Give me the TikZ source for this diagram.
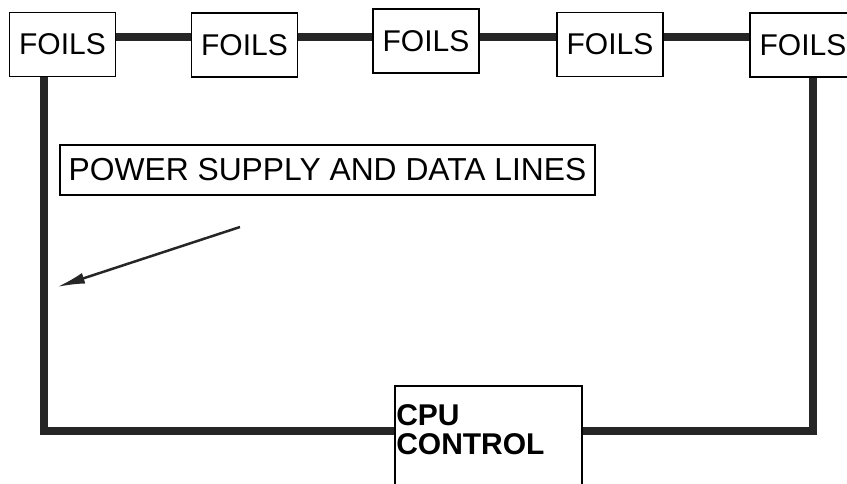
\documentclass[tikz,border=0pt]{standalone}
\usepackage{fontspec}
\setmainfont{Liberation Sans}
\usetikzlibrary{arrows.meta}
\tikzset{
    foil/.style={
           rectangle,
           draw=black, line width=1.5pt,
           minimum width=106pt, minimum height=64pt,
           inner sep=0pt,
           font=\fontsize{30}{30}\selectfont,
           },
}
\tikzset{
    notebox/.style={
           rectangle,
           draw=black, line width=1.5pt,
           minimum width=535pt, minimum height=50pt,
           inner sep=0pt,
           font=\fontsize{31.8}{32}\selectfont,
           },
}
\tikzset{
    cpubox/.style={
           rectangle,
           draw=black, line width=1.5pt,
           anchor=north west,
           inner xsep=1.5pt, inner ysep=19pt,
           text width=184pt, align=left,
           text depth=110pt,
           font=\fontsize{30}{29}\selectfont\bfseries,
           },
}
\tikzset{
    bus/.style={
           draw=black!85, line width=8pt,
           },
}

\begin{document}
\begin{tikzpicture}[x=1pt,y=-1pt]
\useasboundingbox (0,0) rectangle (847,483);
\clip (0,0) rectangle (847,483);
\node[foil](f1) at (62.5,44.5){FOILS};
\node[foil](f2) at (244.5,45){FOILS};
\node[foil](f3) at (426,41){FOILS};
\node[foil](f4) at (610,44.5){FOILS};
\node[foil](f5) at (803,45){FOILS};
\node[notebox](pwr) at (327.5,170){POWER SUPPLY AND DATA LINES};
\node[cpubox](cpu) at (394,385){CPU\\CONTROL};
% bus rails
\coordinate (busT) at (0,37);
\coordinate (busL) at (44,431);
\coordinate (busR) at (813,431);
\path[bus] (f1.east |- busT) -- (f2.west |- busT);
\path[bus] (f2.east |- busT) -- (f3.west |- busT);
\path[bus] (f3.east |- busT) -- (f4.west |- busT);
\path[bus] (f4.east |- busT) -- (f5.west |- busT);
\path[bus] (f1.south -| busL) |- (busL -| cpu.west);
\path[bus] (f5.south -| busR) |- (busR -| cpu.east);
% pointer from the legend
\coordinate (tail) at (240,227);
\coordinate (tip) at (57,287);
\draw[black!85, line width=2.5pt, -{Latex[length=28pt,width=11pt]}] (tail) -- (tip);
\end{tikzpicture}
\end{document}
